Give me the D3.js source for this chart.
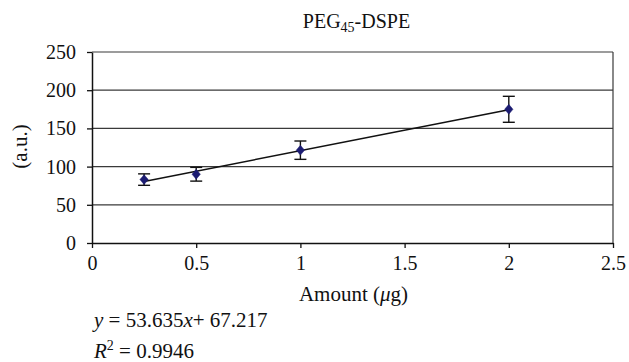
<!DOCTYPE html>
<html>
<head>
<meta charset="utf-8">
<script src="https://cdn.jsdelivr.net/npm/d3@7"></script>
<style>
  body { margin: 0; background: #fff; }
  svg text { font-family: "Liberation Serif", "Times New Roman", serif; fill: #111; }
</style>
</head>
<body>
<div id="chart"></div>
<script>
const width = 629;
const height = 362;
const MARGIN = { top: 52, right: 16, bottom: 119, left: 92 };
const FONT = 20;
const LABEL_FONT = 21;
const SERIF = '"Liberation Serif", "Times New Roman", serif';

// data
const amounts = [0.25, 0.5, 1, 2];
const signal = [83, 90, 121.5, 175];
const errors = [7.5, 9, 12, 17];
const xTicks = [0, 0.5, 1, 1.5, 2, 2.5];
const yTicks = [0, 50, 100, 150, 200, 250];
const slope = 53.635;
const intercept = 67.217;
const rSquared = 0.9946;

const w = width - MARGIN.left - MARGIN.right;
const h = height - MARGIN.top - MARGIN.bottom;

const svg = d3
  .select('#chart')
  .append('svg')
  .attr('width', width)
  .attr('height', height);

const g = svg
  .append('g')
  .attr('transform', 'translate(' + MARGIN.left + ',' + MARGIN.top + ')');

const x = d3.scaleLinear().domain([0, 2.5]).range([0, w]);
const y = d3.scaleLinear().domain([0, 250]).range([h, 0]);

// horizontal gridlines
g.selectAll('line.grid')
  .data(yTicks.filter((d) => d > 0))
  .join('line')
  .attr('class', 'grid')
  .attr('x1', 0)
  .attr('x2', w)
  .attr('y1', (d) => y(d))
  .attr('y2', (d) => y(d))
  .attr('stroke', '#3a3a3a')
  .attr('stroke-width', 1.2);

// right border
g.append('line')
  .attr('x1', w)
  .attr('x2', w)
  .attr('y1', 0)
  .attr('y2', h)
  .attr('stroke', '#3a3a3a')
  .attr('stroke-width', 1.2);

// axes
const xAxis = g
  .append('g')
  .attr('transform', 'translate(0,' + h + ')')
  .call(d3.axisBottom(x).tickValues(xTicks).tickSize(5).tickSizeOuter(0).tickPadding(8).tickFormat(d3.format('')));
const yAxis = g
  .append('g')
  .call(d3.axisLeft(y).tickValues(yTicks).tickSize(5).tickSizeOuter(0).tickPadding(11));

[xAxis, yAxis].forEach((ax) => {
  ax.attr('font-family', SERIF).attr('font-size', FONT);
  ax.select('.domain').attr('stroke', '#111').attr('stroke-width', 1.5);
  ax.selectAll('.tick line').attr('stroke', '#111').attr('stroke-width', 1.3);
  ax.selectAll('.tick text').attr('fill', '#111');
});

// trend line
const fit = (v) => slope * v + intercept;
g.append('line')
  .attr('x1', x(d3.min(amounts)))
  .attr('x2', x(d3.max(amounts)))
  .attr('y1', y(fit(d3.min(amounts))))
  .attr('y2', y(fit(d3.max(amounts))))
  .attr('stroke', '#111')
  .attr('stroke-width', 1.5);

// error bars
const capW = 6;
const bars = g
  .selectAll('g.err')
  .data(amounts)
  .join('g')
  .attr('class', 'err')
  .attr('stroke', '#111')
  .attr('stroke-width', 1.4);
bars.append('line')
  .attr('x1', (d) => x(d))
  .attr('x2', (d) => x(d))
  .attr('y1', (d, i) => y(signal[i] + errors[i]))
  .attr('y2', (d, i) => y(signal[i] - errors[i]));
bars.append('line')
  .attr('x1', (d) => x(d) - capW)
  .attr('x2', (d) => x(d) + capW)
  .attr('y1', (d, i) => y(signal[i] + errors[i]))
  .attr('y2', (d, i) => y(signal[i] + errors[i]));
bars.append('line')
  .attr('x1', (d) => x(d) - capW)
  .attr('x2', (d) => x(d) + capW)
  .attr('y1', (d, i) => y(signal[i] - errors[i]))
  .attr('y2', (d, i) => y(signal[i] - errors[i]));

// diamond markers
g.selectAll('path.dot')
  .data(amounts)
  .join('path')
  .attr('class', 'dot')
  .attr('d', d3.symbol().type(d3.symbolDiamond2).size(62))
  .attr('transform', (d, i) => 'translate(' + x(d) + ',' + y(signal[i]) + ') scale(0.85,1)')
  .attr('fill', '#1c1c72')
  .attr('stroke', '#1c1c72')
  .attr('stroke-width', 0.5);

// title
const title = svg
  .append('text')
  .attr('x', MARGIN.left + w / 2 + 4)
  .attr('y', 28)
  .attr('text-anchor', 'middle')
  .attr('font-family', SERIF)
  .attr('font-size', 20);
title.append('tspan').text('PEG');
title.append('tspan').attr('dy', 4).attr('font-size', 14).text('45');
title.append('tspan').attr('dy', -4).text('-DSPE');

// axis labels
svg.append('text')
  .attr('transform', 'translate(27,' + (MARGIN.top + h / 2 - 1) + ') rotate(-90)')
  .attr('text-anchor', 'middle')
  .attr('font-family', SERIF)
  .attr('font-size', LABEL_FONT)
  .text('(a.u.)');

const xl = svg
  .append('text')
  .attr('x', MARGIN.left + w / 2 + 1)
  .attr('y', 301)
  .attr('text-anchor', 'middle')
  .attr('font-family', SERIF)
  .attr('font-size', LABEL_FONT);
xl.append('tspan').text('Amount (');
xl.append('tspan').attr('font-style', 'italic').text('μ');
xl.append('tspan').text('g)');

// regression equation
const eq = svg
  .append('text')
  .attr('x', 94)
  .attr('y', 327)
  .attr('font-family', SERIF)
  .attr('font-size', LABEL_FONT);
eq.append('tspan').attr('font-style', 'italic').text('y');
eq.append('tspan').text(' = ' + slope);
eq.append('tspan').attr('font-style', 'italic').text('x');
eq.append('tspan').text('+ ' + intercept);

const r2 = svg
  .append('text')
  .attr('x', 94)
  .attr('y', 358)
  .attr('font-family', SERIF)
  .attr('font-size', LABEL_FONT);
r2.append('tspan').attr('font-style', 'italic').text('R');
r2.append('tspan').attr('dy', -8).attr('font-size', 14).text('2');
r2.append('tspan').attr('dy', 8).text(' = ' + rSquared);
</script>
</body>
</html>
